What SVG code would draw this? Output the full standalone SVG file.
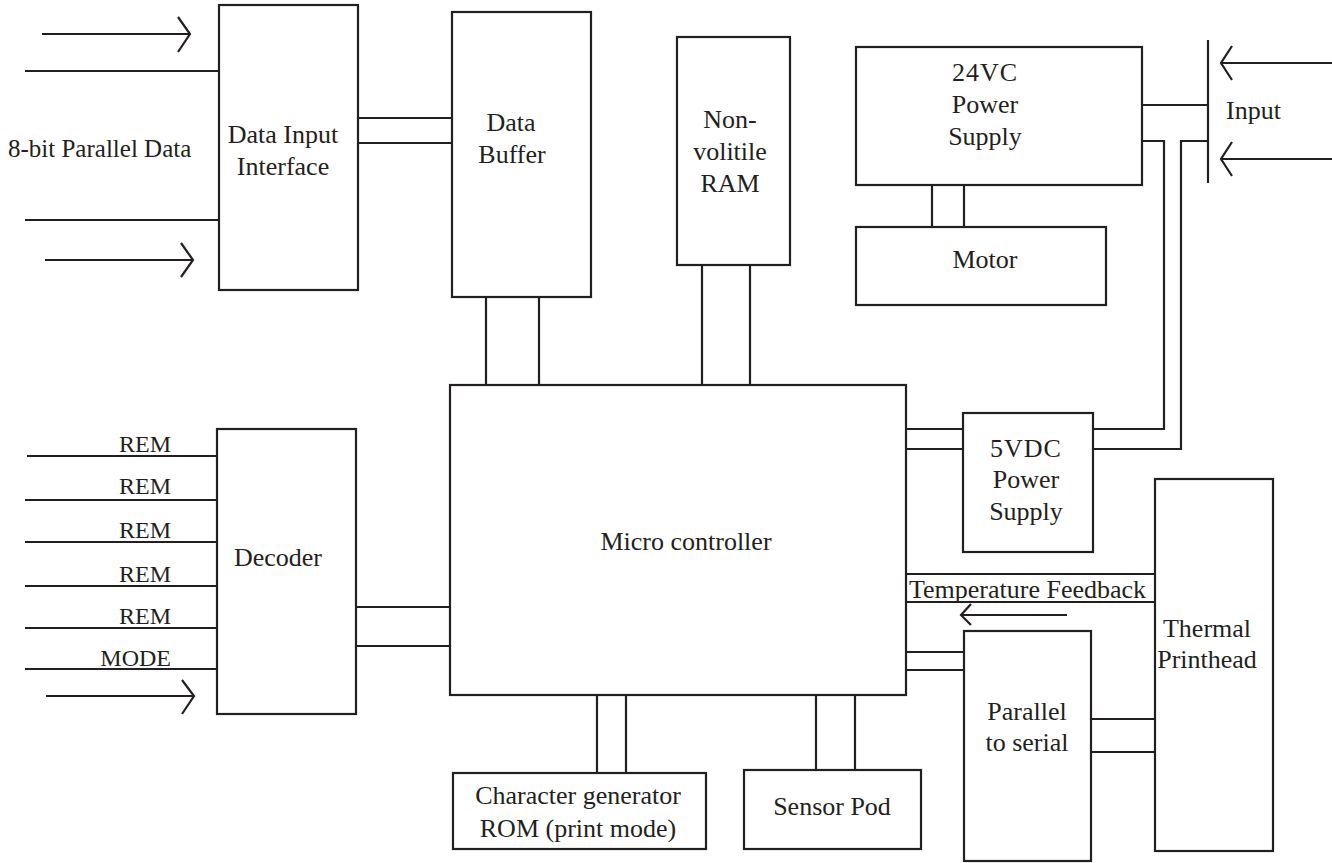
<svg xmlns="http://www.w3.org/2000/svg" width="1332" height="863" viewBox="0 0 1332 863" font-family="Liberation Serif, DejaVu Serif, serif">
<style>
.box{fill:none;stroke:#231f20;stroke-width:2.2}
.ln{fill:none;stroke:#231f20;stroke-width:2.2}
text{font-family:'Liberation Serif','DejaVu Serif',serif;font-size:26px;fill:#231f20}
.c{text-anchor:middle}
.sm{font-size:24px}
</style>
<rect width="1332" height="863" fill="#ffffff"/>
<g id="connectors">
<path class="ln" d="M42,34H190M178,17L190,34L178,52"/>
<path class="ln" d="M25,71H219M25,220H219"/>
<path class="ln" d="M45,260H193M181,243L193,260L181,277"/>
<path class="ln" d="M358,118H452M358,143H452"/>
<path class="ln" d="M486,297V385M539,297V385"/>
<path class="ln" d="M702,265V385M750,265V385"/>
<path class="ln" d="M932,185V227M964,185V227"/>
<path class="ln" d="M1142,105H1208"/>
<path class="ln" d="M1208,40V183"/>
<path class="ln" d="M1142,141H1164V429H1093"/>
<path class="ln" d="M1208,141H1181V449H1093"/>
<path class="ln" d="M1221,63H1332M1232,46L1221,63L1232,80"/>
<path class="ln" d="M1221,159H1332M1232,142L1221,159L1232,176"/>
<path class="ln" d="M906,429H963M906,449H963"/>
<path class="ln" d="M906,574H1155M906,602H1155"/>
<path class="ln" d="M961,615H1067M971,604L961,615L971,625"/>
<path class="ln" d="M906,652H964M906,670H964"/>
<path class="ln" d="M1091,719H1155M1091,752H1155"/>
<path class="ln" d="M356,607H450M356,646H450"/>
<path class="ln" d="M27,456H217M25,500H217M25,542H217M25,586H217M25,628H217M25,669H217"/>
<path class="ln" d="M46,696H194M182,680L194,696L182,714"/>
<path class="ln" d="M597,695V773M626,695V773"/>
<path class="ln" d="M816,695V770M855,695V770"/>
</g>
<g id="labels">
<text x="8" y="157" style="font-size:25px">8-bit Parallel Data</text>
<text x="1226" y="119">Input</text>
<text x="909" y="598">Temperature Feedback</text>
<text class="sm" x="171" y="452" text-anchor="end">REM</text>
<text class="sm" x="171" y="494" text-anchor="end">REM</text>
<text class="sm" x="171" y="538" text-anchor="end">REM</text>
<text class="sm" x="171" y="582" text-anchor="end">REM</text>
<text class="sm" x="171" y="624" text-anchor="end">REM</text>
<text class="sm" x="171" y="666" text-anchor="end">MODE</text>
</g>
<g id="data-input-interface">
<rect class="box" x="219" y="5" width="139" height="285"/>
<text class="c" x="283" y="143">Data Input</text>
<text class="c" x="283" y="175">Interface</text>
</g>
<g id="data-buffer">
<rect class="box" x="452" y="12" width="139" height="285"/>
<text class="c" x="511" y="131">Data</text>
<text class="c" x="512" y="163">Buffer</text>
</g>
<g id="nv-ram">
<rect class="box" x="677" y="37" width="113" height="228"/>
<text class="c" x="730" y="128">Non-</text>
<text class="c" x="730" y="160">volitile</text>
<text class="c" x="730" y="192">RAM</text>
</g>
<g id="power-24v">
<rect class="box" x="856" y="47" width="286" height="138"/>
<text class="c" x="985" y="81" letter-spacing="1">24VC</text>
<text class="c" x="985" y="113">Power</text>
<text class="c" x="985" y="145">Supply</text>
</g>
<g id="motor">
<rect class="box" x="856" y="227" width="250" height="78"/>
<text class="c" x="985" y="268">Motor</text>
</g>
<g id="micro-controller">
<rect class="box" x="450" y="385" width="456" height="310"/>
<text class="c" x="686" y="550">Micro controller</text>
</g>
<g id="power-5v">
<rect class="box" x="963" y="413" width="130" height="139"/>
<text class="c" x="1026" y="457" letter-spacing="1">5VDC</text>
<text class="c" x="1026" y="488">Power</text>
<text class="c" x="1026" y="520">Supply</text>
</g>
<g id="thermal-printhead">
<rect class="box" x="1155" y="479" width="118" height="372"/>
<text class="c" x="1207" y="637">Thermal</text>
<text class="c" x="1207" y="668">Printhead</text>
</g>
<g id="parallel-to-serial">
<rect class="box" x="964" y="631" width="127" height="230"/>
<text class="c" x="1027" y="720">Parallel</text>
<text class="c" x="1027" y="751">to serial</text>
</g>
<g id="decoder">
<rect class="box" x="217" y="429" width="139" height="285"/>
<text class="c" x="278" y="566">Decoder</text>
</g>
<g id="char-gen-rom">
<rect class="box" x="453" y="773" width="253" height="76"/>
<text class="c" x="578" y="804">Character generator</text>
<text class="c" x="578" y="837">ROM (print mode)</text>
</g>
<g id="sensor-pod">
<rect class="box" x="744" y="770" width="177" height="79"/>
<text class="c" x="832" y="815">Sensor Pod</text>
</g>
</svg>
